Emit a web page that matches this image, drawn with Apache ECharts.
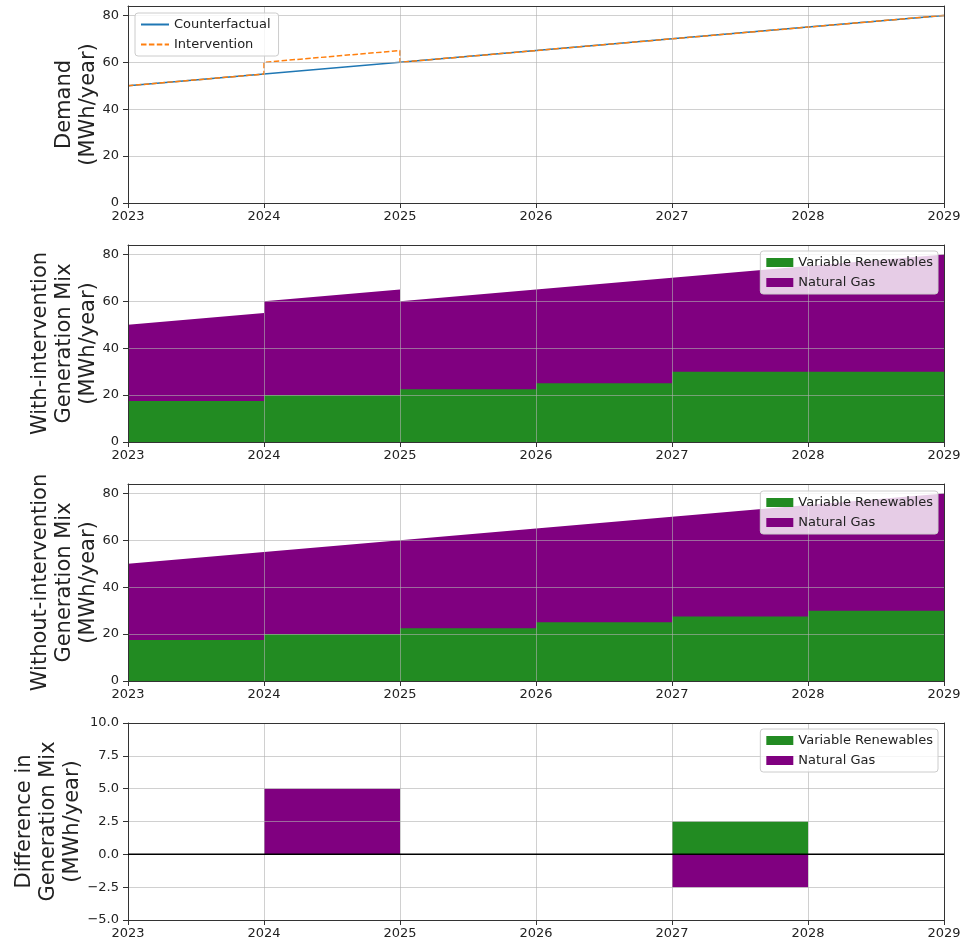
<!DOCTYPE html>
<html>
<head>
<meta charset="utf-8">
<script src="https://cdn.jsdelivr.net/npm/echarts@6/dist/echarts.min.js"></script>
<style>
html,body{margin:0;padding:0;background:#fff;}
#chart{width:964px;height:942px;}
</style>
</head>
<body>
<div id="chart"></div>
<script>
// ---- data ----
const years = [2023, 2024, 2025, 2026, 2027, 2028, 2029];
const counterfactualDemand = [50, 55, 60, 65, 70, 75, 80];
const interventionExtra = [0, 5, 0, 0, 0, 0];          // per year segment
const noExtra = [0, 0, 0, 0, 0, 0];
const renewablesWith = [17.5, 20, 22.5, 25, 30, 30];    // per year segment
const renewablesWithout = [17.5, 20, 22.5, 25, 27.5, 30];
const diffRenewables = [0, 0, 0, 0, 2.5, 0];
const diffGas = [0, 5, 0, 0, -2.5, 0];
const demandTicks = [0, 20, 40, 60, 80];
const diffTicks = [-5, -2.5, 0, 2.5, 5, 7.5, 10];
const yNames = [
  'Demand\n(MWh/year)',
  'With-intervention\nGeneration Mix\n(MWh/year)',
  'Without-intervention\nGeneration Mix\n(MWh/year)',
  'Difference in\nGeneration Mix\n(MWh/year)'
];

// ---- helpers ----
function segSlope(base, extra) {
  const pts = [];
  for (let i = 0; i < years.length - 1; i++) {
    pts.push([years[i], base[i] + extra[i]]);
    pts.push([years[i + 1], base[i + 1] + extra[i]]);
  }
  return pts;
}
function segFlat(vals) {
  const pts = [];
  for (let i = 0; i < vals.length; i++) {
    pts.push([years[i], vals[i]]);
    pts.push([years[i + 1], vals[i]]);
  }
  return pts;
}

const FONT = 'DejaVu Sans';
const GREEN = '#228B22';
const PURPLE = '#800080';
const gridTops = [6, 245, 484, 723];
const gridH = 197;

const grids = gridTops.map(t => ({ left: 128, right: 20, top: t, height: gridH, outerBoundsMode: 'none', containLabel: false }));

const xAxes = [];
const yAxes = [];
for (let g = 0; g < 4; g++) {
  xAxes.push({
    type: 'value', gridIndex: g, min: years[0], max: years[years.length - 1], interval: 1, z: 3,
    axisLine: { show: true, onZero: false, lineStyle: { color: '#333', width: 1 } },
    axisTick: { show: true, length: 5, lineStyle: { color: '#333' } },
    axisLabel: { formatter: v => String(v), fontSize: 13, color: '#222', margin: 7, fontFamily: FONT },
    splitLine: { show: true, lineStyle: { color: 'rgba(176,176,176,0.6)', width: 1 } }
  });
  xAxes.push({
    type: 'value', gridIndex: g, position: 'top', min: years[0], max: years[years.length - 1], z: 3,
    axisLine: { show: true, onZero: false, lineStyle: { color: '#333', width: 1 } },
    axisTick: { show: false }, axisLabel: { show: false }, splitLine: { show: false }
  });
  const isDiff = g === 3;
  const ticks = isDiff ? diffTicks : demandTicks;
  yAxes.push({
    type: 'value', gridIndex: g,
    min: isDiff ? -5 : 0, max: isDiff ? 10 : 84, interval: isDiff ? 2.5 : 20, z: 3,
    name: yNames[g], nameLocation: 'middle', nameRotate: 90, nameGap: isDiff ? 43 : 27,
    nameMoveOverlap: false,
    nameTextStyle: { fontSize: 21, lineHeight: 24, color: '#222', fontFamily: FONT },
    axisLine: { show: true, onZero: false, lineStyle: { color: '#333', width: 1 } },
    axisTick: { show: true, length: 5, lineStyle: { color: '#333' }, customValues: ticks },
    axisLabel: {
      customValues: ticks, fontSize: 13, color: '#222', margin: 9, fontFamily: FONT,
      formatter: v => isDiff ? v.toFixed(1).replace('-', '\u2212') : String(v)
    },
    splitLine: { show: true, lineStyle: { color: 'rgba(176,176,176,0.6)', width: 1 } }
  });
  yAxes.push({
    type: 'value', gridIndex: g, position: 'right',
    min: isDiff ? -5 : 0, max: isDiff ? 10 : 84, z: 3,
    axisLine: { show: true, onZero: false, lineStyle: { color: '#333', width: 1 } },
    axisTick: { show: false }, axisLabel: { show: false }, splitLine: { show: false }
  });
}

function areaSeries(name, g, data, color) {
  return {
    type: 'line', name: name, xAxisIndex: g * 2, yAxisIndex: g * 2, data: data,
    color: color, symbol: 'none', showSymbol: false, z: 2,
    lineStyle: { width: 0 }, areaStyle: { color: color, opacity: 1, origin: 'auto' },
    emphasis: { disabled: true }
  };
}

const series = [
  {
    type: 'line', name: 'Counterfactual', xAxisIndex: 0, yAxisIndex: 0,
    data: years.map((y, i) => [y, counterfactualDemand[i]]),
    color: '#1f77b4', symbol: 'none', lineStyle: { width: 1.5, color: '#1f77b4' }, z: 2
  },
  {
    type: 'line', name: 'Intervention', xAxisIndex: 0, yAxisIndex: 0,
    data: segSlope(counterfactualDemand, interventionExtra),
    color: '#ff7f0e', symbol: 'none', lineStyle: { width: 1.5, color: '#ff7f0e', type: [5.5, 2.4] }, z: 2
  },
  areaSeries('Natural Gas', 1, segSlope(counterfactualDemand, interventionExtra), PURPLE),
  areaSeries('Variable Renewables', 1, segFlat(renewablesWith), GREEN),
  areaSeries('Natural Gas', 2, segSlope(counterfactualDemand, noExtra), PURPLE),
  areaSeries('Variable Renewables', 2, segFlat(renewablesWithout), GREEN),
  areaSeries('Variable Renewables', 3, segFlat(diffRenewables), GREEN),
  areaSeries('Natural Gas', 3, segFlat(diffGas), PURPLE),
  {
    type: 'line', name: 'zero', xAxisIndex: 6, yAxisIndex: 6,
    data: [[years[0], 0], [years[years.length - 1], 0]],
    symbol: 'none', lineStyle: { width: 1.5, color: '#000' }, color: '#000', z: 4
  }
];

const legendBase = {
  orient: 'vertical', z: 5,
  backgroundColor: 'rgba(255,255,255,0.8)', borderColor: '#cccccc', borderWidth: 1, borderRadius: 3,
  textStyle: { fontSize: 13, color: '#222', fontFamily: FONT, lineHeight: 15 },
  selectedMode: false
};
const legends = [
  Object.assign({}, legendBase, {
    left: 135, top: 13, padding: [4, 8, 4, 5], itemGap: 5, itemWidth: 28, itemHeight: 12, itemTextGap: 10,
    itemStyle: { opacity: 0 },
    data: ['Counterfactual', 'Intervention']
  })
];
[251, 491, 729].forEach(t => {
  legends.push(Object.assign({}, legendBase, {
    right: 26, top: t, padding: [4, 5, 4, 6], itemGap: 5, itemWidth: 27, itemHeight: 9, itemTextGap: 11,
    data: [{ name: 'Variable Renewables', icon: 'rect' }, { name: 'Natural Gas', icon: 'rect' }]
  }));
});

const chart = echarts.init(document.getElementById('chart'), null, { renderer: 'canvas' });
chart.setOption({
  animation: false,
  backgroundColor: '#fff',
  textStyle: { fontFamily: FONT },
  grid: grids,
  xAxis: xAxes,
  yAxis: yAxes,
  legend: legends,
  series: series
});
</script>
</body>
</html>
